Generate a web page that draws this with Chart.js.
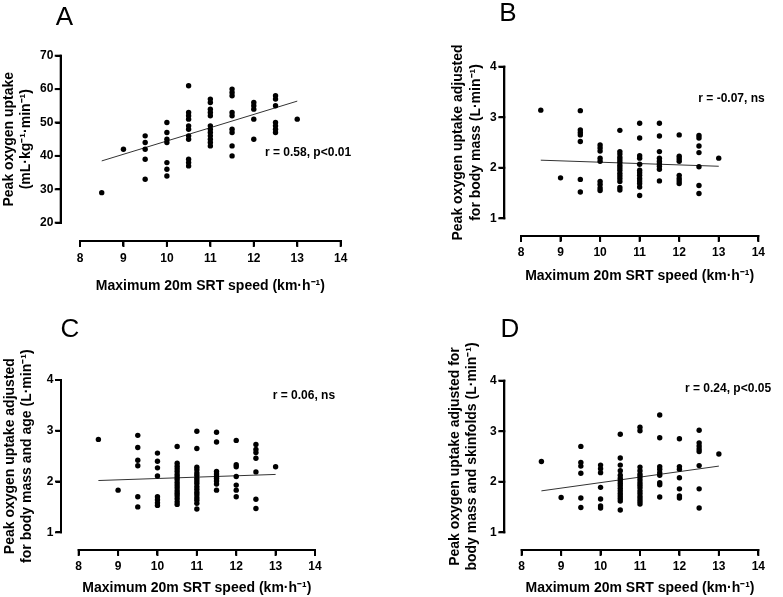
<!DOCTYPE html>
<html><head><meta charset="utf-8">
<script src="https://cdn.jsdelivr.net/npm/chart.js@4"></script>
<style>
html,body{margin:0;padding:0;background:#fff;}
#wrap{position:relative;width:783px;height:597px;overflow:hidden;background:#fff;}
canvas{position:absolute;}
</style></head><body>
<div id="wrap">
<canvas id="cA" width="390" height="300" style="left:0;top:0"></canvas>
<canvas id="cB" width="393" height="300" style="left:390px;top:0"></canvas>
<canvas id="cC" width="390" height="297" style="left:0;top:300px"></canvas>
<canvas id="cD" width="393" height="297" style="left:390px;top:300px"></canvas>
</div>
<script>
// ---- data ----
const speeds = [8.5, 9, 9.5, 10, 10.5, 11, 11.5, 12, 12.5, 13];
const speedTicks = [8, 9, 10, 11, 12, 13, 14];
const vo2Ticks = [20, 30, 40, 50, 60, 70];
const adjTicks = [1, 2, 3, 4];
const fitSpeeds = [8.5, 13];

const peakVO2 = [
  [29], [42], [46,44,42,39,33], [50,47,45,44,38,36,34],
  [61,53,52,51,49,48,46,45,39,38,37],
  [57,56,54,53,52,49,48,47,46,45,44,43],
  [60,59,58,53,52,48,47,43,40], [56,55,54,51,45], [58,57,55,50,49,48,47], [51]
];
const fitA = [38.5, 56.4];

const adjMass = [
  [3.14], [1.80], [3.13,2.75,2.70,2.65,2.52,1.77,1.52],
  [2.45,2.39,2.33,2.19,2.13,1.73,1.67,1.60,1.55],
  [2.74,2.32,2.27,2.21,2.16,2.11,2.05,2.00,1.95,1.89,1.84,1.79,1.73,1.61,1.56],
  [2.88,2.59,2.24,2.19,2.07,1.95,1.90,1.85,1.79,1.74,1.69,1.62,1.45],
  [2.88,2.63,2.32,2.19,2.13,2.08,2.03,1.97,1.74],
  [2.65,2.23,2.18,2.13,1.85,1.79,1.74,1.69],
  [2.64,2.59,2.43,2.30,2.02,1.65,1.49], [2.19]
];
const fitB = [2.15, 2.03];

const adjMassAge = [
  [2.83], [1.83], [2.91,2.67,2.42,2.31,1.70,1.50],
  [2.56,2.40,2.27,2.11,1.70,1.64,1.58,1.53],
  [2.69,2.36,2.30,2.25,2.20,2.14,2.09,2.04,1.98,1.93,1.88,1.82,1.77,1.72,1.66,1.60,1.55],
  [2.99,2.65,2.28,2.23,2.17,2.12,2.06,2.01,1.96,1.90,1.85,1.79,1.74,1.68,1.63,1.57,1.46],
  [2.97,2.78,2.20,2.15,2.10,2.06,2.01,1.95,1.83],
  [2.81,2.33,2.29,2.10,1.93,1.83,1.70],
  [2.73,2.63,2.57,2.46,2.19,1.65,1.47], [2.29]
];
const fitC = [2.02, 2.14];

const adjMassSkin = [
  [2.40], [1.69], [2.70,2.38,2.31,2.17,1.68,1.49],
  [2.33,2.26,2.18,1.89,1.66,1.52,1.48],
  [2.94,2.47,2.33,2.22,2.13,2.07,2.02,1.97,1.92,1.87,1.82,1.77,1.72,1.67,1.62,1.44],
  [3.08,3.01,2.29,2.22,2.15,2.10,2.04,1.98,1.93,1.88,1.82,1.77,1.71,1.66,1.61,1.56],
  [3.32,2.87,2.30,2.25,2.18,2.13,1.98,1.94,1.70],
  [2.85,2.30,2.25,2.08,1.86,1.72,1.68],
  [3.02,2.77,2.71,2.65,2.60,2.32,1.86,1.48], [2.55]
];
const fitD = [1.82, 2.31];

const xTitle = 'Maximum 20m SRT speed (km·h\u207B\u00B9)';
const titleA = ['Peak oxygen uptake', '(mL·kg\u207B\u00B9·min\u207B\u00B9)'];
const titleB = ['Peak oxygen uptake adjusted', 'for body mass (L·min\u207B\u00B9)'];
const titleC = ['Peak oxygen uptake adjusted', 'for body mass and age (L·min\u207B\u00B9)'];
const titleD = ['Peak oxygen uptake adjusted for', 'body mass and skinfolds (L·min\u207B\u00B9)'];

// ---- helpers ----
const FONT = '"Liberation Sans", Arial, Helvetica, sans-serif';
function toPoints(groups){ return speeds.flatMap((s,i)=>groups[i].map(v=>({x:s,y:v}))); }
function toFit(vals){ return fitSpeeds.map((s,i)=>({x:s,y:vals[i]})); }

function makeDeco(c){
  return {
    id:'panelDeco',
    afterDraw(chart){
      const ctx = chart.ctx;
      ctx.save();
      ctx.fillStyle = '#000';
      ctx.font = '26px ' + FONT; ctx.textAlign = 'center'; ctx.textBaseline = 'middle';
      ctx.fillText(c.letter, c.letterX, c.letterY);
      ctx.font = 'bold 12px ' + FONT; ctx.textAlign = 'left';
      ctx.fillText(c.note, c.noteX, c.noteY);
      ctx.restore();
    }
  };
}

const tickFont = {family:FONT, size:12, weight:'bold', lineHeight:1.2};
const titleFont = {family:FONT, size:14, weight:'bold', lineHeight:1.25};

// offset axis lines (GraphPad style), built from the tick arrays as line datasets
function axisDatasets(c, xMin, xMax, yMin, yMax){
  const chartW = c.w - c.pad.left - c.pad.right - c.yW;
  const chartH = c.h - c.pad.top - c.pad.bottom - c.xH;
  const xPerPx = (xMax - xMin) / chartW, yPerPx = (yMax - yMin) / chartH;
  const xLine = xMin - c.yGap * xPerPx;   // y-axis position (in x units)
  const yLine = yMin - c.xGap * yPerPx;   // x-axis position (in y units)
  const tx = 5 * xPerPx, ty = 5 * yPerPx;
  const seg = (pts) => ({data:pts, xAxisID:'x', yAxisID:'y', showLine:true, fill:false, borderColor:'#000', backgroundColor:'#000', borderWidth:2, borderCapStyle:'square', pointRadius:0, pointHoverRadius:0, clip:false});
  const out = [];
  out.push(seg([{x:xLine, y:yMin}, {x:xLine, y:yMax}]));
  c.yTicks.forEach(t => out.push(seg([{x:xLine - tx, y:t}, {x:xLine, y:t}])));
  out.push(seg([{x:xMin, y:yLine}, {x:xMax, y:yLine}]));
  speedTicks.forEach(t => out.push(seg([{x:t, y:yLine}, {x:t, y:yLine - ty}])));
  return out;
}

function makeChart(id, c){
  const yMin = c.yTicks[0], yMax = c.yTicks[c.yTicks.length-1];
  const xMin = speedTicks[0], xMax = speedTicks[speedTicks.length-1];
  new Chart(document.getElementById(id), {
    type:'scatter',
    data:{datasets:[
      {data: toPoints(c.groups), xAxisID:'x', yAxisID:'y', pointRadius:2.7, pointHoverRadius:2.7, backgroundColor:'#000', borderWidth:0, clip:false},
      {data: toFit(c.fit), xAxisID:'x', yAxisID:'y', showLine:true, fill:false, borderColor:'#333', backgroundColor:'#333', borderWidth:1, pointRadius:0, clip:false},
      ...axisDatasets(c, xMin, xMax, yMin, yMax)
    ]},
    options:{
      responsive:false, animation:false, devicePixelRatio:1,
      layout:{padding:c.pad},
      events:[],
      plugins:{ legend:{display:false}, tooltip:{enabled:false} },
      scales:{
        x:{type:'linear', position:'bottom', weight:0, min:xMin, max:xMax,
           ticks:{display:false}, grid:{display:false}, border:{display:false}, afterFit:s=>{s.height=c.xGap;}},
        y:{type:'linear', position:'left', weight:0, min:yMin, max:yMax,
           ticks:{display:false}, grid:{display:false}, border:{display:false}, afterFit:s=>{s.width=c.yGap;}},
        xAxis:{type:'linear', position:'bottom', weight:1, min:xMin, max:xMax,
           afterBuildTicks:s=>{s.ticks = speedTicks.map(v=>({value:v}));},
           ticks:{padding:c.xTickPad, color:'#000', font:tickFont, maxRotation:0},
           grid:{display:true, drawOnChartArea:false, drawTicks:true, tickLength:5, tickWidth:2, tickColor:'#000', color:'#000', lineWidth:2},
           border:{display:true, width:2, color:'#000'},
           title:{display:true, text:xTitle, color:'#000', font:titleFont, padding:{top:0,bottom:c.xTitlePad}},
           afterFit:s=>{s.height=c.xH - c.xGap;}},
        yAxis:{type:'linear', position:'left', weight:1, min:yMin, max:yMax,
           afterBuildTicks:s=>{s.ticks = c.yTicks.map(v=>({value:v}));},
           ticks:{padding:c.yTickPad, color:'#000', font:tickFont},
           grid:{display:true, drawOnChartArea:false, drawTicks:true, tickLength:5, tickWidth:2, tickColor:'#000', color:'#000', lineWidth:2},
           border:{display:true, width:2, color:'#000'},
           title:{display:true, text:c.yTitle, color:'#000', font:titleFont, padding:{top:0,bottom:0}},
           afterFit:s=>{s.width=c.yW - c.yGap;}}
      }
    },
    plugins:[makeDeco(c)]
  });
}

makeChart('cA', {w:390, h:300, groups:peakVO2, fit:fitA, yTicks:vo2Ticks, yTitle:titleA,
  pad:{left:0, top:55.7, right:49.3, bottom:4.25}, yW:80, xH:73.05, xTitlePad:1,
  yTickPad:2.4, xTickPad:5.8, yGap:19.3, xGap:18.3,
  letter:'A', letterX:64.5, letterY:17.5, note:'r = 0.58, p<0.01', noteX:265, noteY:152.7});
makeChart('cB', {w:393, h:300, groups:adjMass, fit:fitB, yTicks:adjTicks, yTitle:titleB,
  pad:{left:59.55, top:66.7, right:24.7, bottom:14.25}, yW:71.45, xH:67.45, xTitlePad:1,
  yTickPad:2.6, xTickPad:4.3, yGap:16.7, xGap:17.7,
  letter:'B', letterX:118, letterY:14, note:'r = -0.07, ns', noteX:308.3, noteY:98.7});
makeChart('cC', {w:390, h:297, groups:adjMassAge, fit:fitC, yTicks:adjTicks, yTitle:titleC,
  pad:{left:1.25, top:80, right:75, bottom:0}, yW:77.45, xH:64.7, xTitlePad:0,
  yTickPad:2.7, xTickPad:4.5, yGap:17.7, xGap:17.7,
  letter:'C', letterX:70, letterY:30, note:'r = 0.06, ns', noteX:272.7, noteY:96});
makeChart('cD', {w:393, h:297, groups:adjMassSkin, fit:fitD, yTicks:adjTicks, yTitle:titleD,
  pad:{left:56.25, top:80.7, right:24.7, bottom:0}, yW:75.45, xH:64.7, xTitlePad:0,
  yTickPad:2.6, xTickPad:4.5, yGap:17.4, xGap:17.7,
  letter:'D', letterX:120, letterY:30, note:'r = 0.24, p<0.05', noteX:295, noteY:88.3});
</script>
</body></html>
